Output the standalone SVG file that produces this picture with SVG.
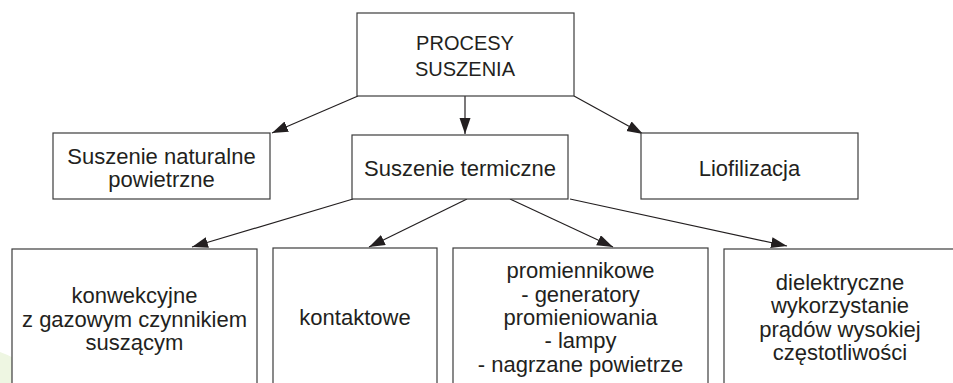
<svg xmlns="http://www.w3.org/2000/svg" width="953" height="383" viewBox="0 0 953 383">
<defs>
<style>
.box{fill:#ffffff;stroke:#3c3c3c;stroke-width:1.2}
.t{font-family:"Liberation Sans",Arial,sans-serif;font-size:22px;fill:#231f20;text-anchor:middle}
.big{font-size:20px}
.c{stroke:#231f20;stroke-width:1.2;fill:none;marker-end:url(#ah)}
</style>
<marker id="ah" markerUnits="userSpaceOnUse" markerWidth="18" markerHeight="12" refX="16" refY="5.5" orient="auto">
<path d="M0,0 L16,5.5 L0,11 Z" fill="#231f20"/>
</marker>
</defs>
<rect x="0" y="0" width="953" height="383" fill="#ffffff"/>
<path d="M0,352 Q28,362 40,383 L0,383 Z" fill="#eef6e2"/>
<path d="M936,336 Q946,342 944,352 Q938,346 934,340 Z" fill="#fbe9ef"/>
<g id="connectors">
<line class="c" x1="358" y1="96" x2="272" y2="133"/>
<line class="c" x1="465" y1="96" x2="465" y2="134"/>
<line class="c" x1="574" y1="96" x2="643" y2="134"/>
<line class="c" x1="353" y1="199" x2="192" y2="247"/>
<line class="c" x1="467" y1="199" x2="369" y2="247"/>
<line class="c" x1="510" y1="199" x2="613" y2="247"/>
<line class="c" x1="570" y1="199" x2="787" y2="246"/>
</g>
<g id="procesy">
<rect class="box" x="357" y="13" width="217" height="83"/>
<text class="t big" x="465" y="50">PROCESY</text>
<text class="t big" x="465" y="76">SUSZENIA</text>
</g>
<g id="naturalne">
<rect class="box" x="53" y="133" width="217" height="66"/>
<text class="t" x="161.5" y="164">Suszenie naturalne</text>
<text class="t" x="161.5" y="187">powietrzne</text>
</g>
<g id="termiczne">
<rect class="box" x="352" y="135" width="216" height="64"/>
<text class="t" x="460" y="176">Suszenie termiczne</text>
</g>
<g id="liofilizacja">
<rect class="box" x="641" y="133" width="217" height="66"/>
<text class="t" x="749.5" y="176">Liofilizacja</text>
</g>
<g id="konwekcyjne">
<rect class="box" x="12" y="249" width="245" height="150"/>
<text class="t" x="134.5" y="303">konwekcyjne</text>
<text class="t" x="134.5" y="327">z gazowym czynnikiem</text>
<text class="t" x="134.5" y="350">suszącym</text>
</g>
<g id="kontaktowe">
<rect class="box" x="273" y="248" width="164" height="150"/>
<text class="t" x="355" y="325">kontaktowe</text>
</g>
<g id="promiennikowe">
<rect class="box" x="453" y="248" width="255" height="150"/>
<text class="t" x="580.5" y="278">promiennikowe</text>
<text class="t" x="580.5" y="302">- generatory</text>
<text class="t" x="580.5" y="325">promieniowania</text>
<text class="t" x="580.5" y="348">- lampy</text>
<text class="t" x="580.5" y="372">- nagrzane powietrze</text>
</g>
<g id="dielektryczne">
<rect class="box" x="724" y="249" width="231" height="150"/>
<text class="t" x="840" y="290">dielektryczne</text>
<text class="t" x="840" y="313">wykorzystanie</text>
<text class="t" x="840" y="337">prądów wysokiej</text>
<text class="t" x="840" y="360">częstotliwości</text>
</g>
</svg>
